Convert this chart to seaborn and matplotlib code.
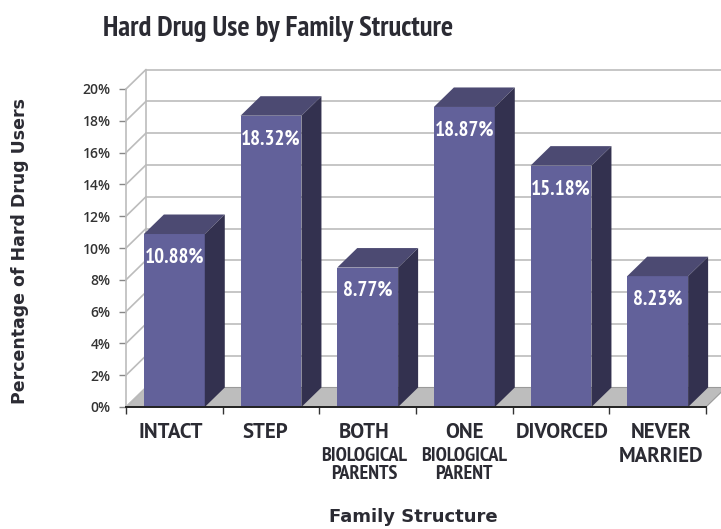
import matplotlib
matplotlib.use("Agg")
import matplotlib.pyplot as plt
from matplotlib.patches import Polygon
import pandas as pd
import seaborn as sns

# values
categories = ["INTACT", "STEP", "BOTH", "ONE", "DIVORCED", "NEVER"]
sub_labels = ["", "", "BIOLOGICAL\nPARENTS", "BIOLOGICAL\nPARENT", "", ""]
values = [10.88, 18.32, 8.77, 18.87, 15.18, 8.23]
y_ticks = [0, 2, 4, 6, 8, 10, 12, 14, 16, 18, 20]

narrow = ["PT Sans Narrow", "Open Sans Condensed", "Barlow Condensed", "Liberation Sans", "DejaVu Sans"]
plain = ["PT Sans", "Liberation Sans", "DejaVu Sans"]
wide = ["DejaVu Sans"]
text_c = "#2b2b33"
W, H = 721, 529

sns.set_theme(style="white")
plt.rcParams["font.family"] = wide

fig = plt.figure(figsize=(W / 100, H / 100), dpi=100)
ax = fig.add_axes([126 / W, 1 - 407 / H, 580 / W, 318 / H])

df = pd.DataFrame({"family": categories, "pct": values})
sns.barplot(data=df, x="family", y="pct", color="#62619a", saturation=1, width=0.63, linewidth=0, ax=ax, zorder=3)
ax.set_xlim(-0.5, 5.5)
ax.set_ylim(0, 20)

# depth of the fake 3d, in data units
dx = 20 / (580 / 6)
dy = 19.5 / (318 / 20)

# floor and back wall
floor = Polygon([(-0.5, 0), (5.5, 0), (5.5 + dx, dy), (-0.5 + dx, dy)], fc="#bdbdbd", ec="#9a9a9a", lw=0.8, zorder=1, clip_on=False)
ax.add_patch(floor)
grid_c = "#bcbcbc"
for t in y_ticks[1:]:
    ax.plot([-0.5 + dx, 5.5 + dx], [t + dy, t + dy], color=grid_c, lw=1.2, zorder=1, clip_on=False)
for t in y_ticks:
    ax.plot([-0.5, -0.5 + dx], [t, t + dy], color=grid_c, lw=1.2, zorder=1, clip_on=False)
ax.plot([-0.5 + dx, -0.5 + dx], [dy, 20 + dy], color=grid_c, lw=1.2, zorder=1, clip_on=False)

# top and side faces of the bars, plus the value labels
for bar, val in zip(ax.patches[:len(values)], values):
    x0 = bar.get_x()
    x1 = x0 + bar.get_width()
    h = bar.get_height()
    top = Polygon([(x0, h), (x1, h), (x1 + dx, h + dy), (x0 + dx, h + dy)], fc="#4c4a72", ec="none", zorder=3, clip_on=False)
    side = Polygon([(x1, 0), (x1 + dx, dy), (x1 + dx, h + dy), (x1, h)], fc="#33314f", ec="none", zorder=3, clip_on=False)
    ax.add_patch(top)
    ax.add_patch(side)
    ax.text((x0 + x1) / 2, h - 1.45, f"{val:.2f}%", color="white", ha="center", va="center",
            fontsize=15, fontweight="bold", family=narrow, zorder=4)

ax.set_xlabel("")
ax.set_ylabel("")
ax.set_xticks([i - 0.5 for i in range(7)])
ax.set_xticklabels([])
ax.set_yticks(y_ticks)
ax.set_yticklabels([f"{t}%" for t in y_ticks], fontsize=10, color="#333333", family=["Open Sans", "DejaVu Sans"], fontweight="semibold")
ax.tick_params(axis="y", length=5, width=1, color="#888888", pad=6, left=True)
ax.tick_params(axis="x", length=5, width=1, color="#333333", bottom=True)
sns.despine(ax=ax, top=True, right=True)
ax.spines["left"].set_color(grid_c)
ax.spines["left"].set_linewidth(1.2)
ax.spines["bottom"].set_color("#222222")
ax.spines["bottom"].set_linewidth(1.4)
ax.spines["bottom"].set_zorder(5)
ax.patch.set_alpha(0)

# category labels, they sit a little left of the bars in the original
label_x = [171, 265, 364, 464, 562, 661]
for name, sub, lx in zip(categories, sub_labels, label_x):
    fig.text(lx / W, 1 - 433 / H, name, ha="center", va="center", fontsize=15, fontweight="bold",
             color=text_c, family=plain)
    if sub:
        fig.text(lx / W, 1 - 465 / H, sub, ha="center", va="center", fontsize=14.5, fontweight="bold",
                 color=text_c, family=narrow, linespacing=1.05)
fig.text(661 / W, 1 - 457 / H, "MARRIED", ha="center", va="center", fontsize=15, fontweight="bold",
         color=text_c, family=plain)

fig.text(103 / W, 1 - 29 / H, "Hard Drug Use by Family Structure", ha="left", va="center", fontsize=20.7,
         fontweight="bold", color=text_c, family=narrow)
fig.text(20 / W, 1 - 251 / H, "Percentage of Hard Drug Users", rotation=90, ha="center", va="center",
         fontsize=12.5, fontweight="bold", color=text_c)
fig.text(413 / W, 1 - 517 / H, "Family Structure", ha="center", va="center", fontsize=13,
         fontweight="bold", color=text_c)

fig.savefig("out.png", dpi=100)
